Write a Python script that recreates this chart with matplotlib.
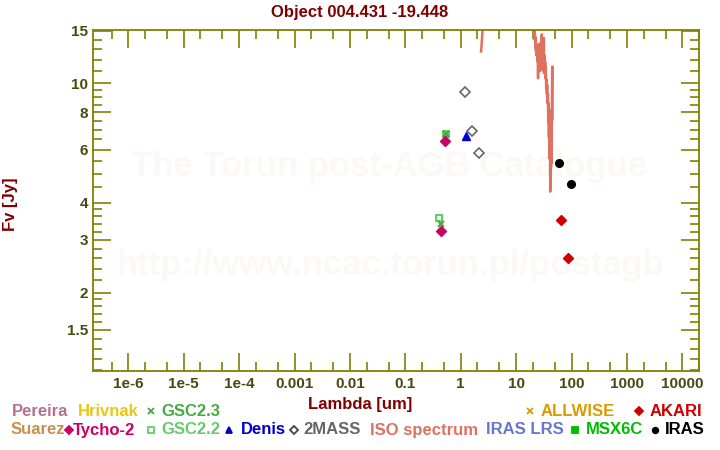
#!/usr/bin/env python3

import matplotlib
matplotlib.use("Agg")
import matplotlib.pyplot as plt
from matplotlib.lines import Line2D
from matplotlib.ticker import FixedLocator, NullFormatter

plt.rcParams["font.family"] = ["Liberation Sans", "DejaVu Sans"]
plt.rcParams["font.weight"] = "bold"

OLIVE = "#808000"
TICKTXT = "#4a4a10"
DARKRED = "#800000"

# photometry (wavelength in um, flux in Jy)
tycho_lam = [0.436, 0.516]
tycho_flux = [3.22, 6.43]
gsc22_lam = [0.414, 0.554]
gsc22_flux = [3.54, 6.80]
gsc23_lam = [0.436, 0.554]
gsc23_flux = [3.40, 6.80]
denis_lam = [1.25]
denis_flux = [6.65]
tmass_lam = [1.21, 1.62, 2.17]
tmass_flux = [9.4, 6.95, 5.86]
iras_lam = [60.1, 98.8]
iras_flux = [5.41, 4.61]
akari_lam = [65.3, 87.4]
akari_flux = [3.49, 2.61]

# ISO SWS spectrum
iso_lam = [2.33, 2.37, 2.41, 2.45, 2.50, 2.60, 2.8, 3.2, 4.0, 5.5, 7.5, 10.0,
           13.0, 16.0, 18.5, 20.0,
           21.0, 21.2, 21.5, 21.7, 21.9, 22.2, 22.5, 22.8, 23.1, 23.4, 23.8,
           24.2, 24.5, 24.9, 25.3, 25.6, 26.0, 26.4, 26.7, 27.1, 27.5, 27.9,
           28.3, 28.8, 29.1, 29.5, 30.0, 30.4, 30.8, 31.3, 31.7, 32.1, 32.6,
           33.0, 33.5, 34.0, 34.4, 34.9, 35.4, 35.9, 36.4, 37.0, 37.5, 38.0,
           38.6, 39.1, 39.6, 40.3, 40.8, 41.3, 41.9, 42.5, 43.1, 43.8, 44.3,
           44.9, 45.2]
iso_flux = [12.8, 13.3, 13.9, 14.6, 15.4, 17.0, 20.0, 25.0, 33.0, 42.0, 50.0,
            52.0, 45.0, 32.0, 22.0, 17.5,
            15.5, 14.3, 14.9, 14.0, 14.6, 13.2, 14.2, 12.8, 13.6, 12.4, 13.3,
            11.9, 12.8, 10.4, 12.5, 11.4, 12.9, 11.2, 13.6, 11.0, 13.2, 11.8,
            13.4, 11.6, 14.6, 11.2, 13.4, 11.8, 13.0, 11.0, 14.2, 10.8, 12.4,
            10.9, 11.8, 10.4, 11.3, 9.6, 10.3, 9.2, 9.9, 8.6, 9.2, 7.4,
            8.6, 6.6, 8.2, 5.6, 7.4, 4.35, 6.6, 5.2, 6.4, 5.4, 8.0,
            11.4, 7.6]

x_ticks = [1e-6, 1e-5, 1e-4, 1e-3, 1e-2, 1e-1, 1, 10, 100, 1000, 10000]
x_labels = ["1e-6", "1e-5", "1e-4", "0.001", "0.01", "0.1", "1", "10", "100", "1000", "10000"]
y_ticks = [1.5, 2, 3, 4, 6, 8, 10, 15]
y_labels = ["1.5", "2", "3", "4", "6", "8", "10", "15"]
y_minor = [1.1, 1.2, 1.3, 1.4, 1.6, 1.7, 1.8, 1.9, 2.2, 2.4, 2.6, 2.8,
           3.2, 3.4, 3.6, 3.8, 4.5, 5, 5.5, 6.5, 7, 7.5, 8.5, 9, 9.5,
           11, 12, 13, 14]

fig = plt.figure(figsize=(7.2, 4.5), dpi=100)
ax = fig.add_axes([0.1285, 0.1762, 0.8428, 0.7582])
ax.set_xscale("log")
ax.set_yscale("log")
ax.set_xlim(2.26e-7, 2.03e4)
ax.set_ylim(1.096, 15.15)

# watermark, behind the data
ax.text(389 / 720, 1 - 176 / 450, "The Torun post-AGB Catalogue", ha="center",
        va="baseline", fontsize=25, color="#fcf9f4", zorder=0, transform=fig.transFigure)
ax.text(391 / 720, 1 - 275 / 450, "http://www.ncac.torun.pl/postagb", ha="center",
        va="baseline", fontsize=25, color="#fcf9f4", zorder=0, transform=fig.transFigure)

ax.plot(iso_lam, iso_flux, color="#e07060", lw=1.8, zorder=2)
ax.plot(gsc22_lam, gsc22_flux, "s", mfc="none", mec="#66cc66", mew=1.5, ms=4.5, ls="none", zorder=3)
ax.plot(gsc23_lam, gsc23_flux, "x", color="#44aa44", mew=1.5, ms=4.5, ls="none", zorder=3)
ax.plot(tycho_lam, tycho_flux, "D", color="#cc0066", ms=5, ls="none", zorder=4)
ax.plot(denis_lam, denis_flux, "^", color="#0000cc", ms=5.5, ls="none", zorder=4)
ax.plot(tmass_lam, tmass_flux, "D", mfc="none", mec="#666666", mew=1.2, ms=5, ls="none", zorder=4)
ax.plot(iras_lam, iras_flux, "o", color="black", ms=5.5, ls="none", zorder=4)
ax.plot(akari_lam, akari_flux, "D", color="#cc0000", ms=5, ls="none", zorder=4)

ax.xaxis.set_major_locator(FixedLocator(x_ticks))
ax.set_xticklabels(x_labels)
minor_x = []
for t in x_ticks[:-1] + [1e-7]:
    minor_x += [2 * t, 5 * t]
minor_x += [2e4]
ax.xaxis.set_minor_locator(FixedLocator(minor_x))
ax.xaxis.set_minor_formatter(NullFormatter())
ax.yaxis.set_major_locator(FixedLocator(y_ticks))
ax.set_yticklabels(y_labels)
ax.yaxis.set_minor_locator(FixedLocator(y_minor))
ax.yaxis.set_minor_formatter(NullFormatter())

ax.tick_params(which="both", direction="in", top=True, right=True, color=OLIVE, width=1.2)
ax.tick_params(which="major", length=13)
ax.tick_params(which="minor", length=6.5)
ax.tick_params(axis="x", which="major", pad=4.5, labelsize=11, labelcolor=TICKTXT)
ax.tick_params(axis="y", which="major", pad=3, labelsize=11, labelcolor=TICKTXT)
for lab in ax.get_xticklabels() + ax.get_yticklabels():
    lab.set_fontweight("bold")
for s in ax.spines.values():
    s.set_color(OLIVE)
    s.set_linewidth(1.3)

fig.text(0.5, 1 - 12 / 450, "Object 004.431 -19.448", ha="center", va="center",
         fontsize=12, color=DARKRED)
fig.text(10 / 720, 1 - 204 / 450, "Fv [Jy]", ha="center", va="center", rotation=90,
         fontsize=12, color=DARKRED)
fig.text(360 / 720, 1 - 405 / 450, "Lambda [um]", ha="center", va="center",
         fontsize=12, color=DARKRED)

# legend rows
legend_texts = [
    ("Pereira", 12, 411, "#b4728c"), ("Hrivnak", 78, 411, "#e8c810"),
    ("GSC2.3", 161, 411, "#44aa44"), ("ALLWISE", 541, 411, "#dd9900"),
    ("AKARI", 650, 411, "#cc0000"),
    ("Suarez", 11, 430, "#c8904a"), ("Tycho-2", 73, 430, "#cc0066"),
    ("GSC2.2", 161, 430, "#66cc66"), ("Denis", 241, 430, "#0000cc"),
    ("2MASS", 303, 430, "#666666"), ("ISO spectrum", 370, 430, "#e07060"),
    ("IRAS LRS", 486, 430, "#6677cc"), ("MSX6C", 586, 430, "#00bb00"),
    ("IRAS", 665, 430, "black"),
]
for txt, x, y, c in legend_texts:
    fig.text(x / 720, 1 - y / 450, txt, ha="left", va="center", fontsize=12, color=c)

legend_marks = [
    (151, 411, "x", "#44aa44", True), (530, 411, "x", "#dd9900", True),
    (639, 411, "D", "#cc0000", True),
    (69, 430, "D", "#cc0066", True), (151, 430, "s", "#66cc66", False),
    (229, 430, "^", "#0000cc", True), (294, 430, "D", "#444444", False),
    (575, 430, "s", "#00bb00", True), (655, 430, "o", "black", True),
]
for x, y, m, c, filled in legend_marks:
    fig.add_artist(Line2D([x / 720], [1 - y / 450], marker=m, ms=4,
                          mfc=c if filled else "none", mec=c, mew=1.3,
                          transform=fig.transFigure))

fig.savefig("out.png", dpi=100)
